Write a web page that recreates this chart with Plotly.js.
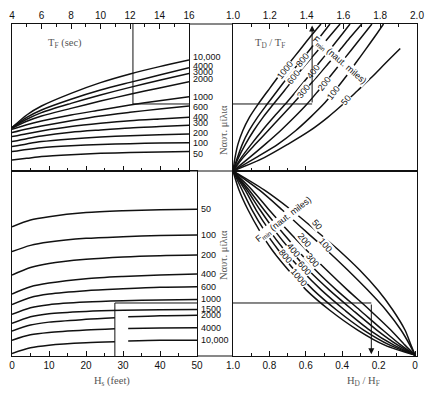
<!DOCTYPE html>
<html><head><meta charset="utf-8">
<script src="https://cdn.plot.ly/plotly-3.0.1.min.js"></script>
<style>html,body{margin:0;padding:0;background:#fff}#chart{width:434px;height:393px}</style>
</head><body><div id="chart"></div>
<script>
// ---------- Top-left panel: T_F (sec) vs decay-distance curves ----------
const tfValues = [4, 5, 6, 8, 10, 12, 14, 16];
const tfTicks = [4, 6, 8, 10, 12, 14, 16];
const tlLabels = ['10,000', '4000', '3000', '2000', '1000', '600', '400', '300', '200', '100', '50'];
const tl10000 = [29.5, 38.1, 44.2, 52.8, 60.1, 66.0, 71.0, 75.5];
const tl4000  = [29.5, 36.5, 41.5, 48.8, 55.1, 60.3, 65.3, 70.3];
const tl3000  = [29.5, 35.2, 39.7, 46.0, 51.7, 56.9, 61.7, 66.4];
const tl2000  = [29.0, 33.8, 37.4, 42.6, 47.6, 52.2, 56.5, 60.8];
const tl1000  = [28.3, 31.5, 34.0, 38.1, 41.5, 44.9, 47.8, 50.6];
const tl600   = [26.1, 28.6, 30.6, 34.2, 37.4, 39.9, 42.2, 44.2];
const tl400   = [23.4, 25.4, 27.2, 30.2, 32.4, 34.2, 35.4, 36.5];
const tl300   = [20.0, 22.0, 23.8, 26.3, 27.9, 29.3, 30.2, 31.1];
const tl200   = [16.6, 18.4, 20.0, 21.8, 23.1, 24.0, 24.7, 25.2];
const tl100   = [13.2, 14.7, 15.9, 17.2, 18.1, 18.6, 19.0, 19.3];
const tl50    = [7.5, 8.6, 9.8, 11.1, 12.0, 12.5, 12.9, 13.2];
// label levels in the column (as printed)
const tlLabelV = [77.5, 71.5, 67.3, 62.6, 50.3, 43.5, 36.7, 32.7, 25.9, 19.0, 11.6];

// ---------- Top-right panel: T_D / T_F for F_min curves ----------
const trLevels = [0, 9.1, 18.3, 27.4, 36.5, 45.2, 54.8, 63.9, 73.1, 82.2, 91.3, 100];
const tr50Levels = [0, 9.1, 18.3, 27.4, 36.5, 45.2, 54.8, 63.9, 73.1, 83.3];
const trLabels = ['1000', '800', '600', '400', '300', '200', '100', '50'];
const tr1000 = [1.0, 1.011, 1.027, 1.053, 1.089, 1.135, 1.191, 1.245, 1.304, 1.362, 1.42, 1.478];
const tr800  = [1.0, 1.024, 1.051, 1.087, 1.133, 1.184, 1.242, 1.298, 1.356, 1.415, 1.473, 1.527];
const tr600  = [1.0, 1.03, 1.068, 1.112, 1.163, 1.218, 1.28, 1.338, 1.40, 1.462, 1.523, 1.582];
const tr400  = [1.0, 1.045, 1.1, 1.158, 1.22, 1.282, 1.347, 1.407, 1.465, 1.524, 1.582, 1.636];
const tr300  = [1.0, 1.055, 1.122, 1.19, 1.258, 1.322, 1.39, 1.455, 1.518, 1.58, 1.64, 1.70];
const tr200  = [1.0, 1.089, 1.176, 1.258, 1.333, 1.4, 1.465, 1.525, 1.584, 1.642, 1.7, 1.755];
const tr100  = [1.0, 1.125, 1.245, 1.34, 1.42, 1.49, 1.555, 1.612, 1.665, 1.718, 1.77, 1.818];
const tr50   = [1.0, 1.17, 1.3, 1.418, 1.515, 1.596, 1.678, 1.755, 1.827, 1.909];
const trLabelT = [1.283, 1.378, 1.33, 1.435, 1.385, 1.495, 1.545, 1.615];
const trLabelV = [68.7, 75.5, 63.9, 67.3, 54.4, 59.2, 53.1, 48.3];

// ---------- Bottom-left panel: H_s (feet) ----------
const hsValues = [0, 5, 10, 20, 30, 40, 50];
const hsGapValues = [0, 5, 10, 20, 27.8, 29.6, 31.4, 40, 50];
const blLabels = ['50', '100', '200', '400', '600', '1000', '1500', '2000', '4000', '10,000'];
const bl50    = [-30.3, -26.6, -24.8, -22.6, -21.6, -21.0, -20.8];
const bl100   = [-43.8, -40.4, -38.6, -36.6, -35.7, -35.1, -34.8];
const bl200   = [-56.5, -52.4, -50.2, -48.0, -46.7, -46.0, -45.7];
const bl400   = [-66.8, -62.9, -60.9, -58.5, -57.3, -56.5, -56.0];
const bl600   = [-72.5, -68.7, -66.8, -65.0, -64.0, -63.2, -62.9];
const bl1000  = [-77.9, -74.3, -72.6, -71.2, -70.5, -70.1, -69.8];
const bl1500  = [-82.8, -79.2, -77.5, -76.3, -75.7, -75.4, -75.2];
const bl2000  = [-87.0, -83.7, -82.1, -80.6, -79.7, null, -79.2, -78.6, -78.3];
const bl4000  = [-91.9, -89.0, -87.7, -86.4, -85.7, null, -85.5, -85.3, -85.1];
const bl10000 = [-99.1, -96.0, -94.6, -93.3, -92.8, null, -92.4, -92.0, -91.9];

// ---------- Bottom-right panel: H_D / H_F ----------
const brLevels = [0, -10.3, -21.2, -32.1, -42.9, -53.8, -64.7, -75.5, -86.4, -94.6, -100];
const brLabels = ['50', '100', '200', '300', '400', '600', '800', '1000'];
const br50   = [1.0, 0.829, 0.680, 0.547, 0.420, 0.304, 0.204, 0.122, 0.055, 0.022, 0];
const br100  = [1.0, 0.856, 0.729, 0.608, 0.486, 0.370, 0.260, 0.160, 0.077, 0.028, 0];
const br200  = [1.0, 0.895, 0.801, 0.702, 0.597, 0.486, 0.370, 0.249, 0.133, 0.055, 0];
const br300  = [1.0, 0.912, 0.829, 0.740, 0.646, 0.547, 0.431, 0.304, 0.177, 0.077, 0];
const br400  = [1.0, 0.923, 0.851, 0.773, 0.685, 0.586, 0.470, 0.343, 0.210, 0.094, 0];
const br600  = [1.0, 0.934, 0.873, 0.801, 0.718, 0.624, 0.514, 0.387, 0.249, 0.116, 0];
const br800  = [1.0, 0.950, 0.895, 0.829, 0.751, 0.663, 0.558, 0.431, 0.282, 0.138, 0];
const br1000 = [1.0, 0.967, 0.917, 0.856, 0.785, 0.696, 0.597, 0.470, 0.315, 0.166, 0];
const brLabelH = [0.536, 0.492, 0.608, 0.564, 0.669, 0.608, 0.713, 0.64];
const brLabelW = [-29.3, -40.2, -37.5, -48.4, -42.9, -52.7, -46.2, -57.6];

// ---------- worked example (construction lines) ----------
const exampleTF = [12.2];
const exampleLevelTop = [45.6];
const exampleTD = [1.43];
const exampleHs = [27.8];
const exampleLevelBottom = [-71.7];
const exampleHD = [0.24];

// ---------- layout geometry ----------
const W = 434, H = 393;
const px = v => v / W, py = v => 1 - v / H;
const D = {
  tl: [px(12), px(189)], tr: [px(233), px(417)],
  bl: [px(12), px(197)], br: [px(233), px(417)],
  top: [py(171), py(24)], bot: [py(356), py(171)]
};

const INK = '#111';
const SANS = 'Liberation Sans, Arial, sans-serif';
const SERIF = 'Liberation Serif, DejaVu Serif, serif';
const lineStyle = {color: INK, width: 1.5, shape: 'spline', smoothing: 0.8};
const traces = [];
function addCurve(x, y, xa, ya) {
  traces.push({x: x, y: y, xaxis: xa, yaxis: ya, mode: 'lines', line: lineStyle,
    connectgaps: false, hoverinfo: 'skip', showlegend: false});
}
const tlSeries = [tl10000, tl4000, tl3000, tl2000, tl1000, tl600, tl400, tl300, tl200, tl100, tl50];
tlSeries.forEach(s => addCurve(tfValues, s, 'x', 'y'));
const trSeries = [tr1000, tr800, tr600, tr400, tr300, tr200, tr100, tr50];
trSeries.forEach((s, i) => addCurve(s, i === 7 ? tr50Levels : trLevels, 'x2', 'y2'));
const blSeries = [bl50, bl100, bl200, bl400, bl600, bl1000, bl1500, bl2000, bl4000, bl10000];
blSeries.forEach(s => addCurve(s.length === hsGapValues.length ? hsGapValues : hsValues, s, 'x3', 'y3'));
const brSeries = [br50, br100, br200, br300, br400, br600, br800, br1000];
brSeries.forEach(s => addCurve(s, brLevels, 'x4', 'y4'));
traces.push({x: [], y: [], xaxis: 'x5', yaxis: 'y', mode: 'lines', showlegend: false, hoverinfo: 'skip'});
traces.push({x: [], y: [], xaxis: 'x6', yaxis: 'y2', mode: 'lines', showlegend: false, hoverinfo: 'skip'});

const tickFont = {family: SANS, size: 10, color: INK};
function xAxis(domain, range, anchor, side, tickvals, ticktext, minorDtick, minorTick0) {
  return {domain: domain, range: range, anchor: anchor, side: side, tickvals: tickvals, ticktext: ticktext,
    ticks: 'inside', ticklen: 5, tickwidth: 1, tickcolor: INK,
    minor: {dtick: minorDtick, tick0: minorTick0, ticks: 'inside', ticklen: 3, tickwidth: 1, tickcolor: INK, showgrid: false},
    showline: true, linecolor: INK, linewidth: 1, mirror: true, showgrid: false, zeroline: false,
    tickfont: tickFont, fixedrange: true};
}
function yAxis(domain, range, anchor) {
  return {domain: domain, range: range, anchor: anchor, showline: true, linecolor: INK, linewidth: 1,
    mirror: true, showticklabels: false, ticks: '', showgrid: false, zeroline: false, fixedrange: true};
}

const annotations = [];
const colFont = {family: SANS, size: 9, color: INK};
tlSeries.forEach((s, i) => annotations.push({x: tfValues[tfValues.length - 1], y: tlLabelV[i], xref: 'x', yref: 'y',
  text: tlLabels[i], showarrow: false, xanchor: 'left', xshift: 2, font: colFont}));
blSeries.forEach((s, i) => annotations.push({x: hsValues[hsValues.length - 1], y: s[s.length - 1], xref: 'x3', yref: 'y3',
  text: blLabels[i], showarrow: false, xanchor: 'left', xshift: 2, font: colFont}));
trLabels.forEach((t, i) => annotations.push({x: trLabelT[i], y: trLabelV[i], xref: 'x2', yref: 'y2', text: t,
  showarrow: false, textangle: -52, bgcolor: '#fff', borderpad: 0, font: {family: SANS, size: 9, color: INK}}));
brLabels.forEach((t, i) => annotations.push({x: brLabelH[i], y: brLabelW[i], xref: 'x4', yref: 'y4', text: t,
  showarrow: false, textangle: 50, bgcolor: '#fff', borderpad: 0, font: {family: SANS, size: 9, color: INK}}));
annotations.push({x: 1.58, y: 75.5, xref: 'x2', yref: 'y2', text: 'F<sub>min</sub> (naut. miles)', showarrow: false,
  textangle: 41, bgcolor: '#fff', borderpad: 0, font: {family: SANS, size: 9, color: INK}});
annotations.push({x: 0.72, y: -26.5, xref: 'x4', yref: 'y4', text: 'F<sub>min</sub> (naut. miles)', showarrow: false,
  textangle: -38, bgcolor: '#fff', borderpad: 0, font: {family: SANS, size: 9, color: INK}});
const titleFont = {family: SERIF, size: 10.5, color: '#555'};
annotations.push({x: 7.6, y: 87, xref: 'x', yref: 'y', text: 'T<sub>F</sub> (sec)', showarrow: false, font: titleFont});
annotations.push({x: 1.2, y: 87, xref: 'x2', yref: 'y2', text: 'T<sub>D</sub> / T<sub>F</sub>', showarrow: false, font: titleFont});
annotations.push({x: 27, y: py(373), xref: 'x3', yref: 'paper', yanchor: 'top', text: 'H<sub>s</sub> (feet)', showarrow: false, font: titleFont});
annotations.push({x: 0.285, y: py(373), xref: 'x4', yref: 'paper', yanchor: 'top', text: 'H<sub>D</sub> / H<sub>F</sub>', showarrow: false, font: titleFont});
annotations.push({x: px(223), y: py(103), xref: 'paper', yref: 'paper', text: 'Ναυτ. μίλια', textangle: -90, showarrow: false, font: titleFont});
annotations.push({x: px(223), y: py(255), xref: 'paper', yref: 'paper', text: 'Ναυτ. μίλια', textangle: -90, showarrow: false, font: titleFont});
annotations.push({x: exampleTD[0], y: 99, xref: 'x2', yref: 'y2', ax: exampleTD[0], ay: exampleLevelTop[0],
  axref: 'x2', ayref: 'y2', text: '', showarrow: true, arrowhead: 2, arrowsize: 1.2, arrowwidth: 1, arrowcolor: INK});
annotations.push({x: exampleHD[0], y: -99.5, xref: 'x4', yref: 'y4', ax: exampleHD[0], ay: exampleLevelBottom[0],
  axref: 'x4', ayref: 'y4', text: '', showarrow: true, arrowhead: 2, arrowsize: 1.2, arrowwidth: 1, arrowcolor: INK});

const seg = (xref, yref, x0, y0, x1, y1) => ({type: 'line', xref: xref, yref: yref, x0: x0, y0: y0, x1: x1, y1: y1,
  line: {color: INK, width: 1}});
const shapes = [
  seg('paper', 'paper', D.tl[1], D.top[1], D.tr[0], D.top[1]),
  seg('paper', 'paper', D.tl[1], D.top[0], D.tr[0], D.top[0]),
  seg('paper', 'paper', D.bl[1], D.bot[0], D.br[0], D.bot[0]),
  seg('x', 'y', exampleTF[0], 100, exampleTF[0], exampleLevelTop[0]),
  seg('x', 'y', exampleTF[0], exampleLevelTop[0], 16, exampleLevelTop[0]),
  seg('x2', 'y2', 1.0, exampleLevelTop[0], exampleTD[0], exampleLevelTop[0]),
  seg('x3', 'y3', exampleHs[0], -100.5, exampleHs[0], exampleLevelBottom[0]),
  seg('x3', 'y3', exampleHs[0], exampleLevelBottom[0], 50, exampleLevelBottom[0]),
  seg('x4', 'y4', 1.0, exampleLevelBottom[0], exampleHD[0], exampleLevelBottom[0])
];

const layout = {
  width: W, height: H, margin: {l: 0, r: 0, t: 0, b: 0}, paper_bgcolor: '#fff', plot_bgcolor: 'rgba(0,0,0,0)',
  showlegend: false, font: {family: SANS, color: INK},
  xaxis: xAxis(D.tl, [4, 16], 'y', 'top', tfTicks, tfTicks.map(String), 1, 4),
  yaxis: yAxis(D.top, [0, 100], 'x'),
  xaxis2: xAxis(D.tr, [1, 2], 'y2', 'top', [1, 1.2, 1.4, 1.6, 1.8, 2.0], ['1.0', '1.2', '1.4', '1.6', '1.8', '2.0'], 0.1, 1),
  yaxis2: yAxis(D.top, [0, 100], 'x2'),
  xaxis3: xAxis(D.bl, [0, 50], 'y3', 'bottom', [0, 10, 20, 30, 40, 50], ['0', '10', '20', '30', '40', '50'], 5, 0),
  yaxis3: yAxis(D.bot, [-100.5, 0], 'x3'),
  xaxis4: xAxis(D.br, [1, -0.011], 'y4', 'bottom', [1, 0.8, 0.6, 0.4, 0.2, 0], ['1.0', '0.8', '0.6', '0.4', '0.2', '0'], 0.1, 0),
  yaxis4: yAxis(D.bot, [-100.5, 0], 'x4'),
  xaxis5: {domain: D.bl, range: [0, 50], anchor: 'y', side: 'bottom', tickvals: [10, 20, 30, 40], ticks: 'inside',
    ticklen: 5, tickcolor: INK, showticklabels: false, showline: false, showgrid: false, zeroline: false,
    minor: {tickvals: [5, 15, 25, 35, 45], ticks: 'inside', ticklen: 3, tickcolor: INK}},
  xaxis6: {domain: D.br, range: [1, -0.011], anchor: 'y2', side: 'bottom', tickvals: [0.8, 0.6], ticks: 'inside',
    ticklen: 5, tickcolor: INK, showticklabels: false, showline: false, showgrid: false, zeroline: false,
    minor: {tickvals: [0.9, 0.7], ticks: 'inside', ticklen: 3, tickcolor: INK}},
  annotations: annotations,
  shapes: shapes
};
Plotly.newPlot('chart', traces, layout, {displayModeBar: false, staticPlot: true});
</script></body></html>
